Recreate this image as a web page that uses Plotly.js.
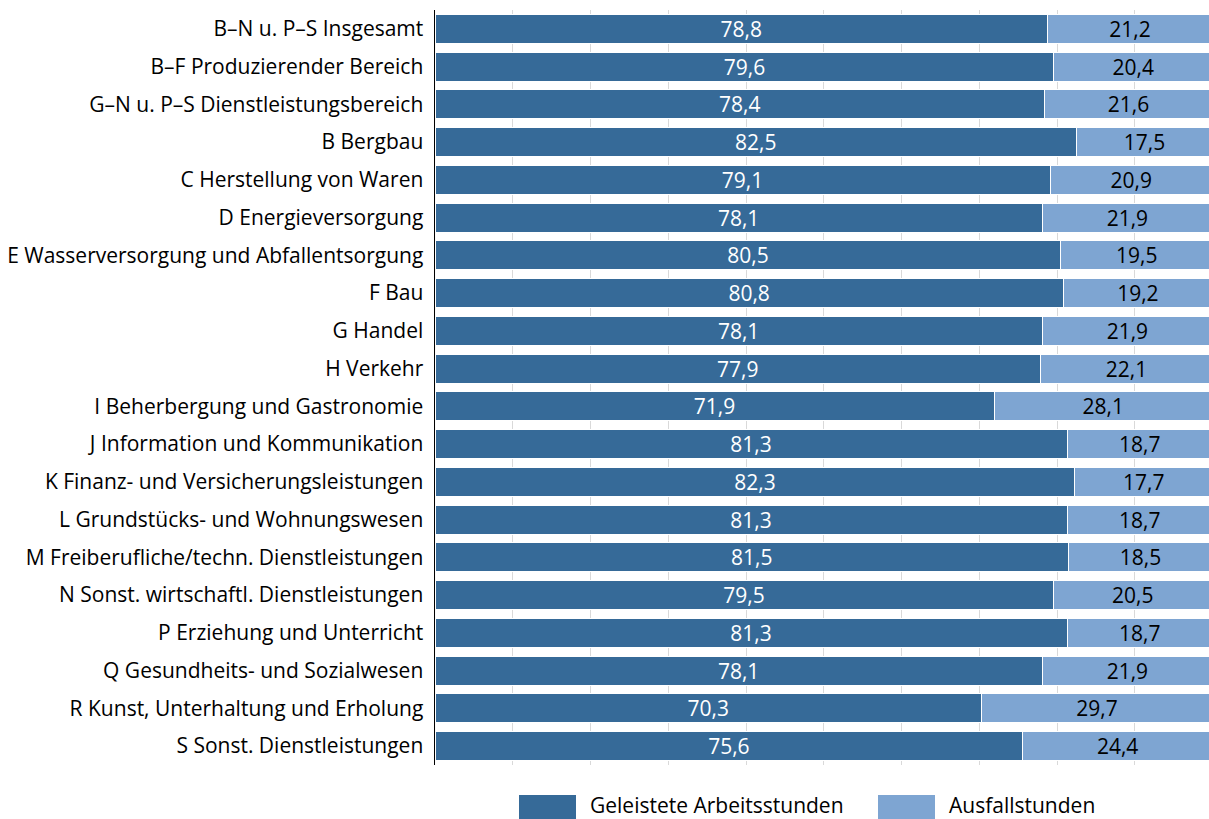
<!DOCTYPE html>
<html>
<head>
<meta charset="utf-8">
<script src="https://cdn.plot.ly/plotly-3.0.1.min.js"></script>
<style>html,body{margin:0;padding:0;background:#fff;}#chart{width:1209px;height:819px;}</style>
</head>
<body>
<div id="chart"></div>
<script>
const categories = [
  "B–N u. P–S Insgesamt",
  "B–F Produzierender Bereich",
  "G–N u. P–S Dienstleistungsbereich",
  "B Bergbau",
  "C Herstellung von Waren",
  "D Energieversorgung",
  "E Wasserversorgung und Abfallentsorgung",
  "F Bau",
  "G Handel",
  "H Verkehr",
  "I Beherbergung und Gastronomie",
  "J Information und Kommunikation",
  "K Finanz- und Versicherungsleistungen",
  "L Grundstücks- und Wohnungswesen",
  "M Freiberufliche/techn. Dienstleistungen",
  "N Sonst. wirtschaftl. Dienstleistungen",
  "P Erziehung und Unterricht",
  "Q Gesundheits- und Sozialwesen",
  "R Kunst, Unterhaltung und Erholung",
  "S Sonst. Dienstleistungen"
];
const geleistet = [78.8,79.6,78.4,82.5,79.1,78.1,80.5,80.8,78.1,77.9,71.9,81.3,82.3,81.3,81.5,79.5,81.3,78.1,70.3,75.6];
const ausfall   = [21.2,20.4,21.6,17.5,20.9,21.9,19.5,19.2,21.9,22.1,28.1,18.7,17.7,18.7,18.5,20.5,18.7,21.9,29.7,24.4];
const seriesNames = ["Geleistete Arbeitsstunden", "Ausfallstunden"];
const colors = ["#366a98", "#7ea5d2"];

const FONT = "'Open Sans', sans-serif";
const FS = 21;

const traces = [
  {
    type: "bar", orientation: "h", name: seriesNames[0],
    y: categories, x: geleistet,
    marker: {color: colors[0], line: {color: "#ffffff", width: 1}},
    texttemplate: "%{x:.1f}", textposition: "inside", insidetextanchor: "middle",
    textangle: 0, constraintext: "none",
    textfont: {color: "#ffffff", size: FS, family: FONT},
    hoverinfo: "skip"
  },
  {
    type: "bar", orientation: "h", name: seriesNames[1],
    y: categories, x: ausfall,
    marker: {color: colors[1], line: {color: "#ffffff", width: 1}},
    texttemplate: "%{x:.1f}", textposition: "inside", insidetextanchor: "middle",
    textangle: 0, constraintext: "none",
    textfont: {color: "#000000", size: FS, family: FONT},
    hoverinfo: "skip"
  }
];

// plot area: top 10, bottom 765 (height 755)
const py = p => (765 - p) / 755;
const px = p => (p - 435) / 774;
const layout = {
  width: 1209, height: 819,
  margin: {l: 435, r: 0, t: 10, b: 54},
  paper_bgcolor: "#ffffff", plot_bgcolor: "#ffffff",
  barmode: "stack", bargap: 0.23,
  separators: ",.",
  showlegend: false,
  font: {family: FONT, size: FS, color: "#000000"},
  xaxis: {
    range: [0, 99.55], showticklabels: false, showgrid: true,
    gridcolor: "#d9d9d9", gridwidth: 1, dtick: 10, zeroline: false,
    showline: false, fixedrange: true
  },
  yaxis: {
    autorange: "reversed", showline: true, linecolor: "#000000", linewidth: 1.5,
    ticks: "", ticklabelstandoff: 6, showgrid: false,
    tickfont: {family: FONT, size: FS, color: "#000000"}, fixedrange: true
  },
  shapes: [
    {type: "rect", xref: "paper", yref: "paper", x0: px(519), x1: px(576), y0: py(795), y1: py(822), fillcolor: colors[0], line: {width: 0}},
    {type: "rect", xref: "paper", yref: "paper", x0: px(878), x1: px(935), y0: py(795), y1: py(822), fillcolor: colors[1], line: {width: 0}}
  ],
  annotations: [
    {xref: "paper", yref: "paper", x: px(588), y: py(805), xanchor: "left", yanchor: "middle", text: seriesNames[0], showarrow: false, font: {family: FONT, size: FS, color: "#000"}},
    {xref: "paper", yref: "paper", x: px(947), y: py(805), xanchor: "left", yanchor: "middle", text: seriesNames[1], showarrow: false, font: {family: FONT, size: FS, color: "#000"}}
  ]
};

Plotly.newPlot("chart", traces, layout, {displayModeBar: false, staticPlot: true});
</script>
</body>
</html>
